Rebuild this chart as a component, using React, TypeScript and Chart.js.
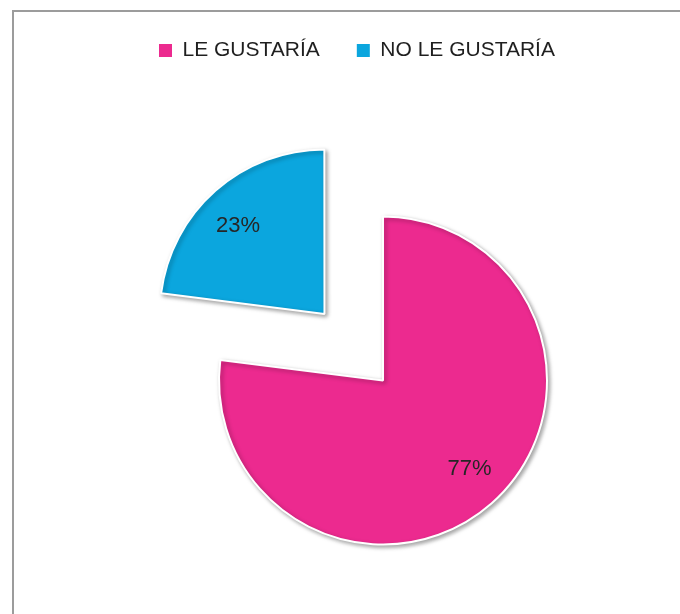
import React, { useEffect, useRef } from "react";
import { Chart, registerables } from "chart.js";

Chart.register(...registerables);

const categories = ["LE GUSTARÍA", "NO LE GUSTARÍA"];
const values = [77, 23];
const percentLabels = ["77%", "23%"];
const sliceColors = ["#EC2A8F", "#0BA6DE"];
const explode = [0, 354];

const FONT = "'Liberation Sans', Arial, sans-serif";

const sliceLabelPlugin = {
  id: "sliceLabels",
  beforeDatasetsDraw(chart: any) {
    const ctx = chart.ctx;
    ctx.save();
    ctx.shadowColor = "rgba(0,0,0,0.35)";
    ctx.shadowBlur = 4;
    ctx.shadowOffsetX = 2;
    ctx.shadowOffsetY = 2;
  },
  afterDatasetsDraw(chart: any) {
    const ctx = chart.ctx;
    ctx.restore();
    const meta = chart.getDatasetMeta(0);
    ctx.save();
    ctx.font = `22px ${FONT}`;
    ctx.fillStyle = "#262626";
    ctx.textAlign = "center";
    ctx.textBaseline = "middle";
    meta.data.forEach((arc: any, i: number) => {
      const p = arc.getProps(["x", "y", "startAngle", "endAngle", "outerRadius", "circumference"], true);
      const off = (arc.options.offset || 0) / 4;
      const mid = (p.startAngle + p.endAngle) / 2;
      const shiftX = p.x + Math.cos(mid) * off;
      const shiftY = p.y + Math.sin(mid) * off;
      const la = mid - 0.05;
      const r = p.outerRadius * 0.755;
      ctx.fillText(percentLabels[i], shiftX + Math.cos(la) * r, shiftY + Math.sin(la) * r);
    });
    ctx.restore();
  },
};

export default function App() {
  const ref = useRef<HTMLCanvasElement | null>(null);

  useEffect(() => {
    if (!ref.current) return;
    const baseGen = (Chart as any).overrides.pie.plugins.legend.labels.generateLabels;
    const chart = new Chart(ref.current, {
      type: "pie",
      data: {
        labels: categories,
        datasets: [
          {
            data: values,
            backgroundColor: sliceColors,
            borderColor: "#ffffff",
            borderWidth: 2,
            offset: explode,
            radius: 164,
            clip: false,
          } as any,
        ],
      },
      options: {
        responsive: false,
        animation: false,
        layout: { padding: { left: 122, right: 36, top: 3, bottom: 10 } },
        plugins: {
          tooltip: { enabled: false },
          legend: {
            position: "top",
            align: "start",
            labels: {
              boxWidth: 13,
              boxHeight: 13,
              padding: 37,
              color: "#1f1f1f",
              font: { family: FONT, size: 21 },
              generateLabels: (c: any) =>
                baseGen(c).map((l: any) => ({ ...l, lineWidth: 0, strokeStyle: l.fillStyle })),
            },
          },
        },
      },
      plugins: [sliceLabelPlugin],
    });
    return () => chart.destroy();
  }, []);

  return (
    <div
      style={{
        position: "fixed",
        left: 0,
        top: 0,
        width: 680,
        height: 614,
        overflow: "hidden",
        background: "#ffffff",
      }}
    >
      <div
        style={{
          position: "absolute",
          left: 12,
          top: 10,
          width: 800,
          height: 800,
          borderLeft: "2px solid #9c9c9c",
          borderTop: "2px solid #9c9c9c",
        }}
      />
      <canvas
        ref={ref}
        width={680}
        height={700}
        style={{ position: "absolute", left: 0, top: 0, width: 680, height: 700 }}
      />
    </div>
  );
}
